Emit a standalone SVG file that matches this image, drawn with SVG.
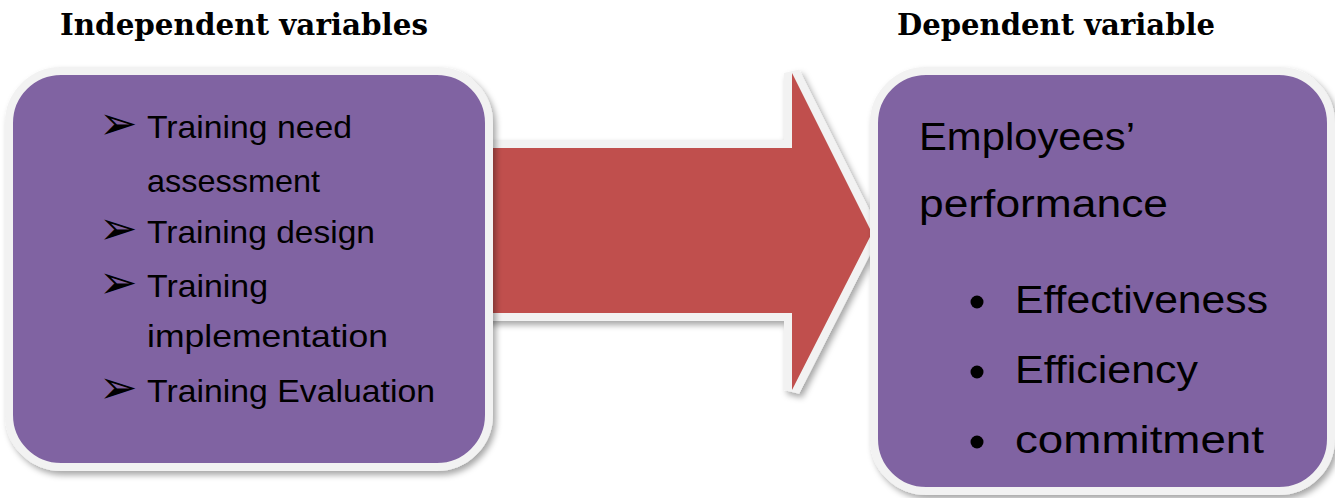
<svg xmlns="http://www.w3.org/2000/svg" width="1335" height="498" viewBox="0 0 1335 498">
<style>
.box{fill:#8064a2;stroke:#f2f2f2;stroke-width:8}
.arrow{fill:#c0504d;stroke:#f2f2f2;stroke-width:16;paint-order:stroke;stroke-linejoin:miter}
.title{font-family:"DejaVu Serif","Liberation Serif",serif;font-weight:bold;font-size:30px;fill:#000}
.t{font-family:"Liberation Sans",Arial,sans-serif;font-size:32px;fill:#000}
.t2{font-family:"Liberation Sans",Arial,sans-serif;font-size:38px;fill:#000}
.bul{font-family:"DejaVu Sans",sans-serif;font-size:46px;fill:#000}
</style>
<defs>
<filter id="sh" x="-10%" y="-10%" width="120%" height="125%">
<feDropShadow dx="3" dy="4" stdDeviation="3" flood-color="#000" flood-opacity="0.35"/>
</filter>
</defs>
<rect width="1335" height="498" fill="#fff"/>
<g id="titles">
<text class="title" x="60" y="35" textLength="368" lengthAdjust="spacingAndGlyphs">Independent variables</text>
<text class="title" x="897" y="35" textLength="318" lengthAdjust="spacingAndGlyphs">Dependent variable</text>
</g>
<g id="connectors">
<polygon class="arrow" filter="url(#sh)" points="480,148 792,148 792,73 872,233 792,390 792,313 480,313"/>
</g>
<g id="independent">
<rect class="box" filter="url(#sh)" x="9" y="71" width="480" height="396" rx="52"/>
<text class="bul" x="99" y="139">➢</text>
<text class="bul" x="99" y="244">➢</text>
<text class="bul" x="99" y="298">➢</text>
<text class="bul" x="99" y="403">➢</text>
<text class="t" x="147" y="138" textLength="205" lengthAdjust="spacingAndGlyphs">Training need</text>
<text class="t" x="147" y="192" textLength="173" lengthAdjust="spacingAndGlyphs">assessment</text>
<text class="t" x="147" y="243" textLength="228" lengthAdjust="spacingAndGlyphs">Training design</text>
<text class="t" x="147" y="297" textLength="121" lengthAdjust="spacingAndGlyphs">Training</text>
<text class="t" x="147" y="347" textLength="241" lengthAdjust="spacingAndGlyphs">implementation</text>
<text class="t" x="147" y="402" textLength="288" lengthAdjust="spacingAndGlyphs">Training Evaluation</text>
</g>
<g id="dependent">
<rect class="box" filter="url(#sh)" x="874" y="71" width="457" height="420" rx="52"/>
<text class="t2" x="919" y="150" textLength="216" lengthAdjust="spacingAndGlyphs">Employees’</text>
<text class="t2" x="919" y="217" textLength="249" lengthAdjust="spacingAndGlyphs">performance</text>
<circle cx="977" cy="302" r="6.5" fill="#000"/>
<circle cx="977" cy="372" r="6.5" fill="#000"/>
<circle cx="977" cy="442" r="6.5" fill="#000"/>
<text class="t2" x="1015" y="313" textLength="253" lengthAdjust="spacingAndGlyphs">Effectiveness</text>
<text class="t2" x="1015" y="383" textLength="183" lengthAdjust="spacingAndGlyphs">Efficiency</text>
<text class="t2" x="1015" y="453" textLength="249" lengthAdjust="spacingAndGlyphs">commitment</text>
</g>
</svg>
